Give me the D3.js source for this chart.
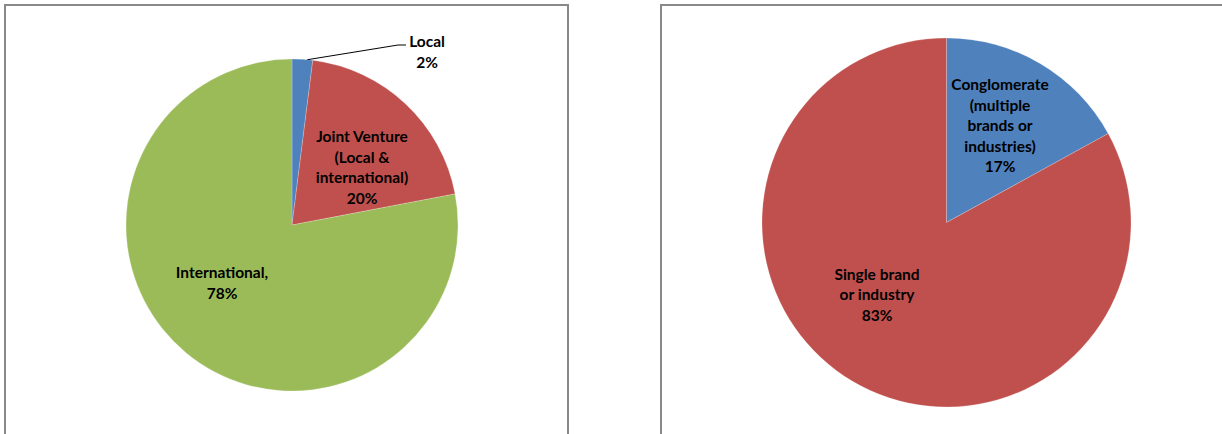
<!DOCTYPE html>
<html>
<head>
<meta charset="utf-8">
<script src="https://cdn.jsdelivr.net/npm/d3@7"></script>
<style>
  html, body { margin: 0; padding: 0; background: #fff; }
  svg { display: block; }
  text { font-family: Lato, "Open Sans", sans-serif; font-weight: bold; font-size: 15.5px; fill: #000; }
</style>
</head>
<body>
<svg id="chart" width="1222" height="434"></svg>
<script>
// Ownership structure
const ownershipCategories = ["Local", "Joint Venture", "International"];
const ownershipValues = [2, 20, 78];
const ownershipLabels = [["Local", "2%"], ["Joint Venture", "(Local &", "international)", "20%"], ["International,", "78%"]];

// Business structure
const structureCategories = ["Conglomerate", "Single brand or industry"];
const structureValues = [17, 83];
const structureLabels = [["Conglomerate", "(multiple", "brands or", "industries)", "17%"], ["Single brand", "or industry", "83%"]];

const colorsOwnership = ["#4F81BD", "#C0504D", "#9BBB59"];
const colorsStructure = ["#4F81BD", "#C0504D"];

const svg = d3.select("#chart");

// Chart frames
const frames = [
  { x: 5, y: 5, w: 563, h: 460 },
  { x: 661, y: 5, w: 600, h: 460 }
];
svg.selectAll("rect.frame").data(frames).join("rect")
  .attr("class", "frame")
  .attr("x", d => d.x).attr("y", d => d.y)
  .attr("width", d => d.w).attr("height", d => d.h)
  .attr("fill", "none").attr("stroke", "#898989").attr("stroke-width", 2);

function drawPie(cfg) {
  const g = svg.append("g").attr("transform", `translate(${cfg.cx},${cfg.cy})`);
  const pie = d3.pie().sort(null).value(d => d.value);
  const arc = d3.arc().innerRadius(0).outerRadius(cfg.r);
  const data = cfg.categories.map((c, i) => ({ name: c, value: cfg.values[i], lines: cfg.labels[i] }));
  const arcs = pie(data);

  g.selectAll("path").data(arcs).join("path")
    .attr("d", arc)
    .attr("fill", (d, i) => cfg.colors[i])
    .attr("stroke", "rgba(255,255,255,0.35)")
    .attr("stroke-width", 0.6);

  const lineH = cfg.lineH;
  arcs.forEach((a, i) => {
    const pos = cfg.labelPos[i];
    const t = g.append("text").attr("text-anchor", "middle");
    const n = a.data.lines.length;
    a.data.lines.forEach((ln, k) => {
      t.append("tspan")
        .attr("x", pos[0])
        .attr("y", pos[1] + (k - (n - 1) / 2) * lineH)
        .attr("dy", "0.35em")
        .text(ln);
    });
    if (cfg.leaders && cfg.leaders[i]) {
      // leader from the slice's outer edge to the label
      const mid = (a.startAngle + a.endAngle) / 2 + 0.03;
      const edge = [cfg.r * Math.sin(mid), -cfg.r * Math.cos(mid)];
      const L = cfg.leaders[i];
      g.append("polyline")
        .attr("points", [edge, L.elbow, L.end].map(p => p.join(",")).join(" "))
        .attr("fill", "none").attr("stroke", "#000").attr("stroke-width", 1);
    }
  });
}

drawPie({
  cx: 292, cy: 225, r: 166,
  categories: ownershipCategories, values: ownershipValues, labels: ownershipLabels,
  colors: colorsOwnership, lineH: 20.5,
  labelPos: [[135, -173], [70, -57.5], [-70, 58]],
  leaders: [{ elbow: [106, -180], end: [114, -180] }, null, null]
});

drawPie({
  cx: 946.5, cy: 222.5, r: 184.5,
  categories: structureCategories, values: structureValues, labels: structureLabels,
  colors: colorsStructure, lineH: 20.5,
  labelPos: [[53.5, -96.5], [-69.5, 72.5]]
});
</script>
</body>
</html>
